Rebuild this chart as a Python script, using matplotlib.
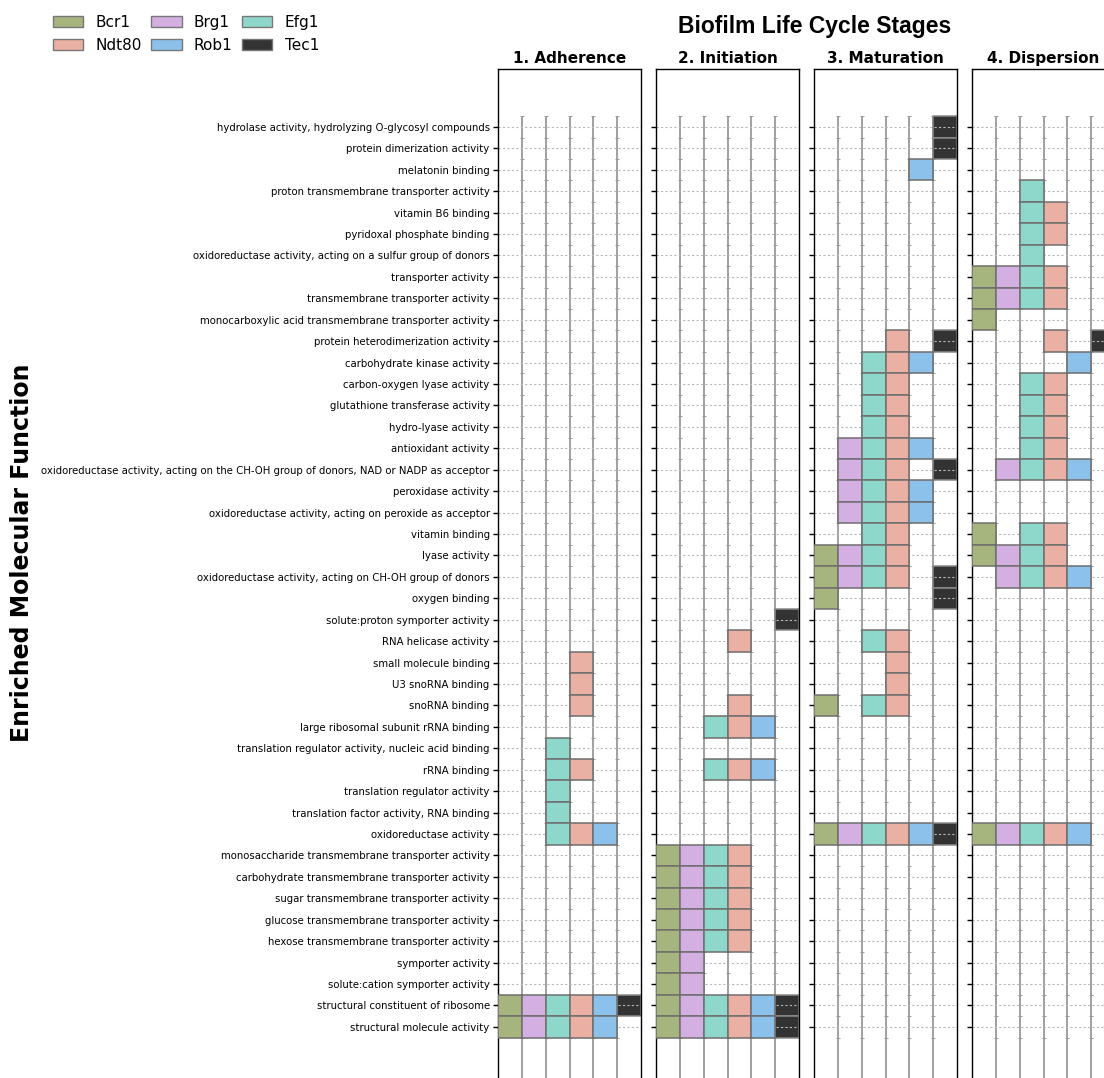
import matplotlib.pyplot as plt
from matplotlib.patches import Patch

# rows of the chart, top to bottom
functions = [
    "hydrolase activity, hydrolyzing O-glycosyl compounds",
    "protein dimerization activity",
    "melatonin binding",
    "proton transmembrane transporter activity",
    "vitamin B6 binding",
    "pyridoxal phosphate binding",
    "oxidoreductase activity, acting on a sulfur group of donors",
    "transporter activity",
    "transmembrane transporter activity",
    "monocarboxylic acid transmembrane transporter activity",
    "protein heterodimerization activity",
    "carbohydrate kinase activity",
    "carbon-oxygen lyase activity",
    "glutathione transferase activity",
    "hydro-lyase activity",
    "antioxidant activity",
    "oxidoreductase activity, acting on the CH-OH group of donors, NAD or NADP as acceptor",
    "peroxidase activity",
    "oxidoreductase activity, acting on peroxide as acceptor",
    "vitamin binding",
    "lyase activity",
    "oxidoreductase activity, acting on CH-OH group of donors",
    "oxygen binding",
    "solute:proton symporter activity",
    "RNA helicase activity",
    "small molecule binding",
    "U3 snoRNA binding",
    "snoRNA binding",
    "large ribosomal subunit rRNA binding",
    "translation regulator activity, nucleic acid binding",
    "rRNA binding",
    "translation regulator activity",
    "translation factor activity, RNA binding",
    "oxidoreductase activity",
    "monosaccharide transmembrane transporter activity",
    "carbohydrate transmembrane transporter activity",
    "sugar transmembrane transporter activity",
    "glucose transmembrane transporter activity",
    "hexose transmembrane transporter activity",
    "symporter activity",
    "solute:cation symporter activity",
    "structural constituent of ribosome",
    "structural molecule activity",
]

genes = ["Bcr1", "Brg1", "Efg1", "Ndt80", "Rob1", "Tec1"]
gene_colors = ["#a6b47e", "#d4b0e2", "#8ed8cb", "#e9b0a3", "#8bc1eb", "#333333"]

stages = ["1. Adherence", "2. Initiation", "3. Maturation", "4. Dispersion"]

# enriched rows (index into functions) per gene, per stage
adherence = {
    "Bcr1": [41, 42],
    "Brg1": [41, 42],
    "Efg1": [29, 30, 31, 32, 33, 41, 42],
    "Ndt80": [25, 26, 27, 30, 33, 41, 42],
    "Rob1": [33, 41, 42],
    "Tec1": [41],
}
initiation = {
    "Bcr1": [34, 35, 36, 37, 38, 39, 40, 41, 42],
    "Brg1": [34, 35, 36, 37, 38, 39, 40, 41, 42],
    "Efg1": [28, 30, 34, 35, 36, 37, 38, 41, 42],
    "Ndt80": [24, 27, 28, 30, 34, 35, 36, 37, 38, 41, 42],
    "Rob1": [28, 30, 41, 42],
    "Tec1": [23, 41, 42],
}
maturation = {
    "Bcr1": [20, 21, 22, 27, 33],
    "Brg1": [15, 16, 17, 18, 20, 21, 33],
    "Efg1": [11, 12, 13, 14, 15, 16, 17, 18, 19, 20, 21, 24, 27, 33],
    "Ndt80": [10, 11, 12, 13, 14, 15, 16, 17, 18, 19, 20, 21, 24, 25, 26, 27, 33],
    "Rob1": [2, 11, 15, 17, 18, 33],
    "Tec1": [0, 1, 10, 16, 21, 22, 33],
}
dispersion = {
    "Bcr1": [7, 8, 9, 19, 20, 33],
    "Brg1": [7, 8, 16, 20, 21, 33],
    "Efg1": [3, 4, 5, 6, 7, 8, 12, 13, 14, 15, 16, 19, 20, 21, 33],
    "Ndt80": [4, 5, 7, 8, 10, 12, 13, 14, 15, 16, 19, 20, 21, 33],
    "Rob1": [11, 16, 21, 33],
    "Tec1": [10],
}
stage_data = [adherence, initiation, maturation, dispersion]

n = len(functions)
pad = 2.7

fig = plt.figure(figsize=(11.04, 10.78), dpi=100)

W, H = 1104, 1078
top_px = 69
row_px = 21.43
ax_h = (n - 1 + 2 * pad) * row_px
for k, (stage, data) in enumerate(zip(stages, stage_data)):
    left_px = 498 + 158 * k
    ax = fig.add_axes([left_px / W, 1 - (top_px + ax_h) / H, 143 / W, ax_h / H])

    # horizontal dotted guides
    for i in range(n):
        ax.axhline(i, color="#b8b8b8", lw=0.8, ls=(0, (2, 2)), zorder=2.5)

    # column separators
    ax.vlines(range(1, 6), -0.5, n - 1 + pad, color="#a0a0a0", lw=1.4, zorder=1)
    for x in range(1, 6):
        ax.plot([x] * (n + 1), [i - 0.5 for i in range(n + 1)], ls="none",
                marker="_", ms=2.5, color="#999999", mew=0.7, zorder=1)

    for j, g in enumerate(genes):
        rows = data[g]
        z = 2 if g == "Tec1" else 3
        ec = "#8a8a8a" if g == "Tec1" else "#6e6e6e"
        ax.bar([j + 0.5] * len(rows), 1, bottom=[r - 0.5 for r in rows], width=1,
               color=gene_colors[j], edgecolor=ec, lw=1.1, zorder=z)

    ax.set_xlim(0, 6)
    ax.set_ylim(n - 1 + pad, -pad)
    ax.set_xticks([])
    ax.set_yticks(range(n))
    if k == 0:
        ax.set_yticklabels(functions, fontsize=7.25)
    else:
        ax.set_yticklabels([])
    ax.tick_params(axis="y", length=3.5, width=1, pad=2.5)
    for s in ax.spines.values():
        s.set_linewidth(1.0)
    ax.set_title(stage, fontsize=11, fontweight="bold", pad=4.5)

fig.text(815 / W, 1 - 26 / H, "Biofilm Life Cycle Stages", ha="center", va="center",
         fontsize=16.5, fontweight="bold", family="Liberation Sans")
fig.text(22 / W, 1 - 553 / H, "Enriched Molecular Function", rotation=90,
         ha="center", va="center", fontsize=17, fontweight="bold")

handles = [Patch(facecolor=c, edgecolor="#777777", label=g) for g, c in zip(genes, gene_colors)]
order = [0, 3, 1, 4, 2, 5]
fig.legend([handles[i] for i in order], [genes[i] for i in order], ncol=3,
           loc="upper left", bbox_to_anchor=(39 / W, 1 - 1 / H), frameon=False,
           fontsize=11, handlelength=2.0, handletextpad=0.8, columnspacing=0.6,
           labelspacing=0.55)

fig.savefig("out.png", dpi=100)
